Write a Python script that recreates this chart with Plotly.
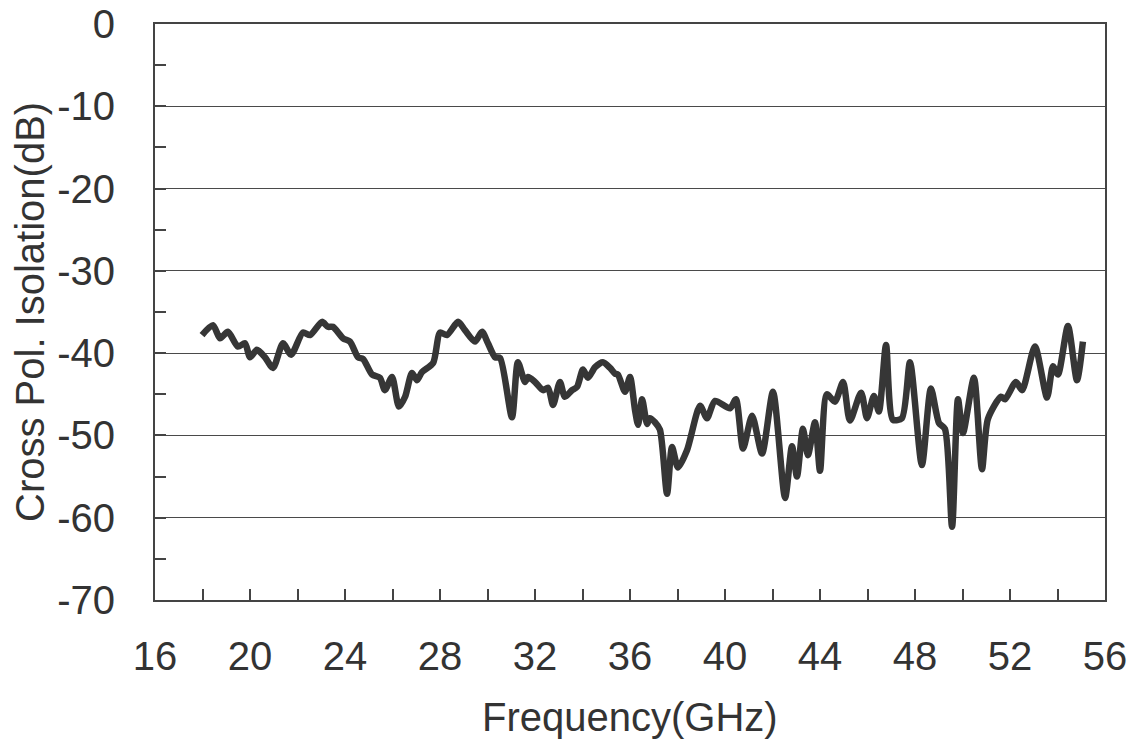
import plotly.graph_objects as go

# Frequency (GHz)
freq = [17.98, 18.44, 18.74, 19.07, 19.49, 19.79, 20.00, 20.29, 20.63, 20.97,
        21.39, 21.73, 22.23, 22.53, 23.03, 23.28, 23.49, 23.92, 24.21, 24.55,
        24.76, 25.14, 25.47, 25.68, 25.98, 26.27, 26.53, 26.82, 27.03, 27.24,
        27.71, 28.00, 28.29, 28.76, 29.05, 29.47, 29.77, 30.02, 30.32, 30.53,
        31.03, 31.28, 31.58, 31.71, 32.00, 32.34, 32.55, 32.76, 33.05, 33.26,
        33.56, 33.77, 34.02, 34.23, 34.53, 34.86, 35.16, 35.37, 35.49, 35.79,
        36.00, 36.21, 36.34, 36.51, 36.72, 36.84, 37.05, 37.26, 37.56, 37.77,
        38.02, 38.40, 38.95, 39.24, 39.58, 40.21, 40.46, 40.76, 41.14, 41.56,
        42.02, 42.53, 42.82, 43.03, 43.28, 43.49, 43.79, 44.00, 44.29, 44.63,
        44.97, 45.26, 45.73, 45.98, 46.27, 46.48, 46.78, 47.07, 47.45, 47.79,
        48.29, 48.67, 49.01, 49.26, 49.56, 49.81, 50.02, 50.48, 50.82, 51.07,
        51.62, 51.79, 52.25, 52.51, 53.05, 53.56, 53.81, 54.02, 54.44, 54.82,
        55.07]

# Cross polarization isolation (dB)
isolation = [-37.8, -36.6, -38.2, -37.4, -39.2, -38.8, -40.5, -39.6, -40.5, -41.8,
             -38.8, -40.2, -37.5, -37.8, -36.2, -36.8, -36.8, -38.2, -38.6, -40.5,
             -40.7, -42.6, -43.0, -44.5, -42.9, -46.5, -45.3, -42.4, -43.3, -42.3,
             -41.2, -37.5, -37.8, -36.2, -37.2, -38.6, -37.4, -38.8, -40.5, -40.6,
             -47.8, -41.1, -43.5, -42.9, -43.5, -44.5, -44.2, -46.3, -43.5, -45.3,
             -44.5, -44.1, -42.0, -43.0, -41.7, -41.1, -41.8, -42.5, -42.6, -44.7,
             -42.9, -46.9, -48.7, -45.6, -48.6, -47.9, -48.4, -49.3, -57.1, -51.4,
             -53.9, -51.8, -46.4, -47.9, -45.8, -46.7, -45.6, -51.6, -47.6, -52.2,
             -44.7, -57.6, -51.3, -55.0, -49.2, -52.4, -48.4, -54.3, -45.0, -45.9,
             -43.5, -48.2, -44.8, -47.9, -45.2, -47.1, -39.0, -48.1, -47.9, -41.1,
             -53.6, -44.3, -48.5, -49.2, -61.1, -45.6, -49.7, -43.0, -54.1, -48.0,
             -45.3, -45.6, -43.5, -44.5, -39.2, -45.4, -41.6, -42.6, -36.7, -43.3,
             -38.6]

x_ticks = [16, 20, 24, 28, 32, 36, 40, 44, 48, 52, 56]
y_ticks = [0, -10, -20, -30, -40, -50, -60, -70]

FONT = "Liberation Sans, Arial, sans-serif"
TXT = "#333333"

fig = go.Figure()
fig.add_trace(go.Scatter(
    x=freq, y=isolation, mode="lines",
    line=dict(color="#363636", width=6.5, shape="spline", smoothing=0.7),
    hoverinfo="x+y", showlegend=False,
))

fig.update_layout(
    width=1130, height=742,
    margin=dict(l=155, r=25, t=24, b=142),
    paper_bgcolor="white", plot_bgcolor="white",
    font=dict(family=FONT, size=40, color=TXT),
    showlegend=False,
)

fig.update_xaxes(
    range=[16, 56], tickvals=x_ticks, ticktext=[str(v) for v in x_ticks],
    ticks="inside", ticklen=11, tickwidth=1.5, tickcolor="#444444",
    minor=dict(dtick=2, tick0=16, ticks="inside", ticklen=11, tickwidth=1.5,
               tickcolor="#444444", showgrid=False),
    showline=True, linecolor="#444444", linewidth=2, mirror=True,
    showgrid=False, zeroline=False, automargin=False,
    tickfont=dict(family=FONT, size=40, color=TXT),
    ticklabelstandoff=20,
)

fig.update_yaxes(
    range=[-70, 0], tickvals=y_ticks, ticktext=[str(v) for v in y_ticks],
    ticks="inside", ticklen=11, tickwidth=1.5, tickcolor="#444444",
    minor=dict(dtick=10, tick0=-5, ticks="inside", ticklen=11, tickwidth=1.5,
               tickcolor="#444444", showgrid=False),
    showline=True, linecolor="#444444", linewidth=2, mirror=True,
    showgrid=True, gridcolor="#4a4a4a", gridwidth=1.3, zeroline=False,
    automargin=False,
    tickfont=dict(family=FONT, size=40, color=TXT),
    ticklabelstandoff=30,
)

fig.add_annotation(
    text="Cross Pol. Isolation(dB)", xref="paper", yref="paper",
    x=(30 - 155) / 950, y=0.5, xanchor="center", yanchor="middle",
    textangle=-90, showarrow=False, font=dict(family=FONT, size=40, color=TXT),
)
fig.add_annotation(
    text="Frequency(GHz)", xref="paper", yref="paper",
    x=0.5, y=-(717 - 600) / 576, xanchor="center", yanchor="middle",
    showarrow=False, font=dict(family=FONT, size=40, color=TXT),
)

fig.write_html("out.html", config={"displayModeBar": False},
               post_script="document.body.style.margin='0';")
